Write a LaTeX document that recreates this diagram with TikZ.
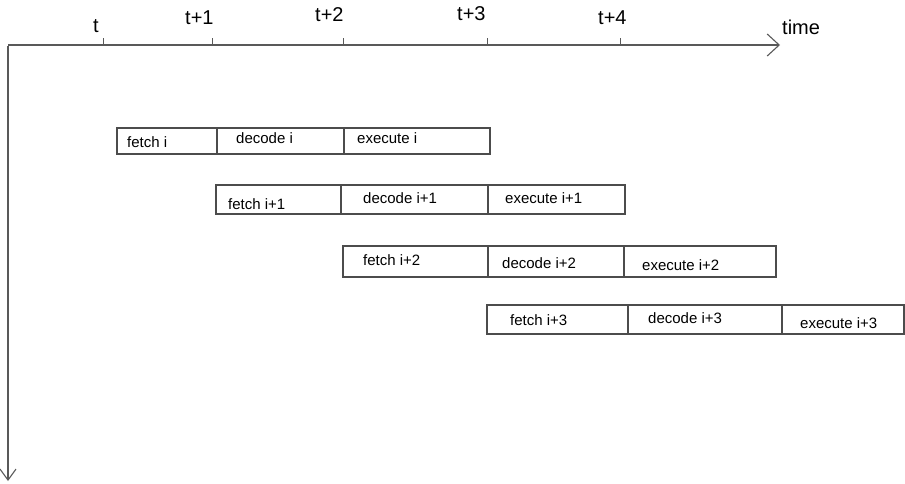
\documentclass[tikz,border=0pt]{standalone}
\usepackage{fontspec}
\setmainfont{Liberation Sans}
\usetikzlibrary{arrows.meta}

\tikzset{
  axis/.style={draw=black!65, line width=1.3pt},
  tickmark/.style={draw=black!65, line width=1pt},
  cell/.style={draw=black!70, line width=1.3pt, rectangle, inner sep=0pt},
  lbl/.style={inner sep=0pt, anchor=base west, text=black,
              font=\fontsize{15}{18}\selectfont},
  timelbl/.style={inner sep=0pt, anchor=base west, text=black,
              font=\fontsize{20}{24}\selectfont},
}

% cell from x1 to x2 on a row spanning y1..y2 (pixel-like units, y downwards)
\newcommand{\stagecell}[5]{%
  \node[cell, minimum width={(#3-#2)*1pt}, minimum height={(#5-#4)*1pt}]
    (#1) at ({(#2+#3)/2},{(#4+#5)/2}) {};}

\begin{document}
\begin{tikzpicture}[x=1pt, y=-1pt]
  \useasboundingbox (0,0) rectangle (905,484);

  % axes
  \coordinate (origin) at (8,45);
  \coordinate (timeend) at (780,45);
  \coordinate (downend) at (8,481);
  \draw[axis, -{Straight Barb[length=12pt, width=22pt, line width=1.1pt]}] (origin) -- (timeend);
  \draw[axis, -{Straight Barb[length=11pt, width=16pt, line width=1.1pt]}] ([yshift=-0.6pt]origin) -- (downend);

  % ticks on the time axis
  \foreach \name/\x in {tk0/103, tk1/212, tk2/343, tk3/487, tk4/620} {
    \coordinate (\name) at (\x,45);
    \draw[tickmark] (\name) -- ++(0,-7);
  }

  % time labels
  \node[timelbl] (lt0) at (93,33) {t};
  \node[timelbl] (lt1) at (185,25) {t+1};
  \node[timelbl] (lt2) at (315,22) {t+2};
  \node[timelbl] (lt3) at (457,21) {t+3};
  \node[timelbl] (lt4) at (598,25) {t+4};
  \node[timelbl] (ltime) at (782,35) {time};

  % instruction i
  \stagecell{f0}{117}{217}{128}{154}
  \stagecell{d0}{217}{344}{128}{154}
  \stagecell{e0}{344}{490}{128}{154}
  \node[lbl] (tf0) at (127,147) {fetch i};
  \node[lbl] (td0) at (236,143) {decode i};
  \node[lbl] (te0) at (357,143) {execute i};

  % instruction i+1
  \stagecell{f1}{216}{341}{185}{214}
  \stagecell{d1}{341}{488}{185}{214}
  \stagecell{e1}{488}{625}{185}{214}
  \node[lbl] (tf1) at (228,209) {fetch i+1};
  \node[lbl] (td1) at (363,203) {decode i+1};
  \node[lbl] (te1) at (505,204) {execute i+1};

  % instruction i+2
  \stagecell{f2}{343}{488}{246}{277}
  \stagecell{d2}{488}{624}{246}{277}
  \stagecell{e2}{624}{776}{246}{277}
  \node[lbl] (tf2) at (363,265) {fetch i+2};
  \node[lbl] (td2) at (502,268) {decode i+2};
  \node[lbl] (te2) at (642,270) {execute i+2};

  % instruction i+3
  \stagecell{f3}{487}{628}{305}{334}
  \stagecell{d3}{628}{782}{305}{334}
  \stagecell{e3}{782}{904}{305}{334}
  \node[lbl] (tf3) at (510,325) {fetch i+3};
  \node[lbl] (td3) at (648,323) {decode i+3};
  \node[lbl] (te3) at (800,328) {execute i+3};
\end{tikzpicture}
\end{document}
